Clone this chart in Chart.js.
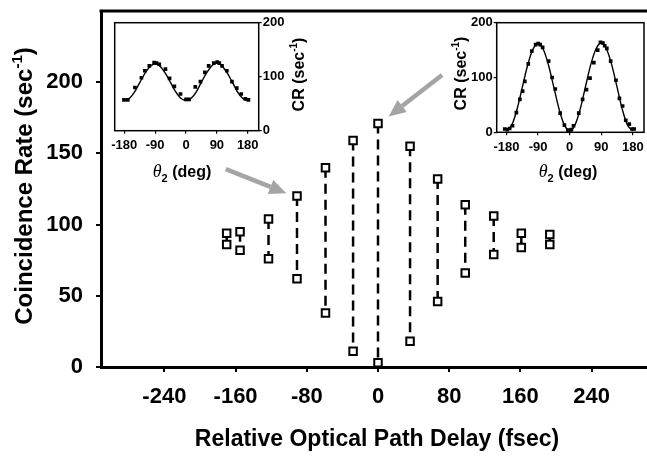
<!DOCTYPE html>
<html>
<head>
<meta charset="utf-8">
<script src="https://cdn.jsdelivr.net/npm/chart.js@4.4.0/dist/chart.umd.min.js"></script>
<style>
  html, body { margin: 0; padding: 0; background: #fff; }
  #wrap { position: relative; width: 647px; height: 468px; }
  #wrap canvas { position: absolute; }
  #mainChart { left: 0; top: 0; }
  #insetLeft { left: 100px; top: 15px; }
  #insetRight { left: 440px; top: 15px; }
</style>
</head>
<body>
<div id="wrap">
  <canvas id="mainChart" width="647" height="468"></canvas>
  <canvas id="insetLeft" width="215" height="170"></canvas>
  <canvas id="insetRight" width="207" height="170"></canvas>
</div>
<script>
/* ================= MAIN PANEL DATA ================= */
const delays   = [-170, -155, -123, -91, -59, -28, 0, 36, 67, 98, 130, 161, 193];
const rateHigh = [94, 95, 104, 120, 140, 159, 171, 155, 132, 114, 106, 94, 93];
const rateLow  = [86, 82, 76, 62, 38, 11, 3, 18, 46, 66, 79, 84, 86];
const delayTicks = [-240, -160, -80, 0, 80, 160, 240];
const rateTicks  = [0, 50, 100, 150, 200];

// arrows from the insets to their points (delay, rate)
const arrowFrom = [[-171, 139], [72, 205]];
const arrowTo   = [[-103, 122], [12, 176]];

/* ================= INSET DATA ================= */
const angleTicks = [-180, -90, 0, 90, 180];
const crTicks    = [0, 100, 200];

const fitDeg = [-180, -165, -150, -135, -120, -105, -90, -75, -60, -45, -30, -15, 0,
                15, 30, 45, 60, 75, 90, 105, 120, 135, 150, 165, 180];

// left inset (delay -91 fsec)
const leftFitCR = [56, 60, 72, 89, 106, 119, 124, 119, 106, 89, 72, 60, 56,
                   60, 72, 90, 107, 120, 126, 120, 107, 90, 72, 60, 56];
const leftPtDeg = [-181, -170, -149, -130, -120, -107, -93, -86, -78, -60, -48, -34, -16, 0, 9,
                   27, 42, 55, 66, 81, 91, 97, 105, 119, 134, 148, 161, 173, 182];
const leftPtCR  = [57, 57, 80, 98, 111, 120, 126, 125, 123, 114, 97, 82, 68, 58, 58,
                   81, 91, 108, 120, 125, 127, 125, 120, 111, 91, 79, 68, 59, 57];

// right inset (delay 0 fsec)
const rightFitCR = [3, 13, 42, 82, 122, 151, 161, 151, 122, 82, 42, 13, 3,
                    13, 42, 83, 123, 152, 163, 152, 123, 83, 42, 13, 3];
const rightPtDeg = [-185, -178, -171, -163, -152, -142, -134, -128, -118, -108, -97, -90, -84, -77,
                    -60, -50, -41, -27, -15, -5, 0, 5, 11, 26, 37, 48, 58, 69, 80, 88, 95, 100,
                    106, 117, 132, 142, 151, 160, 170, 178, 184];
const rightPtCR  = [6, 5, 7, 12, 36, 60, 75, 93, 125, 148, 160, 162, 160, 155,
                    130, 100, 79, 35, 13, 4, 3, 5, 12, 35, 60, 78, 99, 127, 150, 164, 163, 158,
                    153, 130, 95, 62, 48, 22, 15, 6, 6];

/* ================= HELPERS ================= */
const SANS = "'Liberation Sans', Arial, Helvetica, sans-serif";

function drawRich(ctx, parts, cx, cy, rot, size) {
  ctx.save();
  ctx.translate(cx, cy);
  ctx.rotate(rot);
  ctx.fillStyle = "#000";
  ctx.textBaseline = "alphabetic";
  ctx.textAlign = "left";
  let total = 0;
  parts.forEach(p => {
    ctx.font = p.font;
    p.w = ctx.measureText(p.text).width;
    total += p.w;
  });
  let px = -total / 2;
  const base = size * 0.36;
  parts.forEach(p => {
    ctx.font = p.font;
    ctx.fillText(p.text, px, base + (p.dy || 0));
    px += p.w;
  });
  ctx.restore();
}

function drawArrow(ctx, x0, y0, x1, y1) {
  const ang = Math.atan2(y1 - y0, x1 - x0);
  const headLen = 17, headHalf = 7.5;
  const bx = x1 - headLen * Math.cos(ang);
  const by = y1 - headLen * Math.sin(ang);
  ctx.strokeStyle = "#a4a4a4";
  ctx.fillStyle = "#a4a4a4";
  ctx.lineWidth = 4.5;
  ctx.setLineDash([]);
  ctx.beginPath();
  ctx.moveTo(x0, y0);
  ctx.lineTo(bx, by);
  ctx.stroke();
  ctx.beginPath();
  ctx.moveTo(x1, y1);
  ctx.lineTo(bx + headHalf * Math.sin(ang), by - headHalf * Math.cos(ang));
  ctx.lineTo(bx - headHalf * Math.sin(ang), by + headHalf * Math.cos(ang));
  ctx.closePath();
  ctx.fill();
}

function crTitle(size) {
  return [
    { text: "CR (sec", font: `bold ${size}px ${SANS}` },
    { text: "-1", font: `bold ${Math.round(size * 0.62)}px ${SANS}`, dy: -size * 0.4 },
    { text: ")", font: `bold ${size}px ${SANS}` }
  ];
}

function thetaTitle(size) {
  return [
    { text: "θ", font: `italic ${size + 2}px 'Liberation Serif', 'DejaVu Serif', serif` },
    { text: "2", font: `bold ${Math.round(size * 0.68)}px ${SANS}`, dy: size * 0.3 },
    { text: " (deg)", font: `bold ${size}px ${SANS}` }
  ];
}

// keep the plot area exactly where the figure has it
function fixHeight(h) {
  return s => { s.height = h; s.paddingLeft = 0; s.paddingRight = 0; };
}
function fixWidth(w) {
  return s => { s.width = w; s.paddingTop = 0; s.paddingBottom = 0; };
}

/* ================= MAIN CHART ================= */
const pairDatasets = delays.map((d, i) => ({
  data: [{ x: d, y: rateHigh[i] }, { x: d, y: rateLow[i] }],
  showLine: true,
  borderColor: "#000",
  borderWidth: 2.5,
  borderDash: [10, 6],
  pointStyle: "rect",
  pointRadius: 5.3,
  pointBorderWidth: 2,
  pointBorderColor: "#000",
  pointBackgroundColor: "#fff"
}));

const mainDecor = {
  id: "mainDecor",
  afterDraw(chart) {
    const { ctx, chartArea, scales: { x, y } } = chart;
    ctx.save();
    // top frame line
    ctx.strokeStyle = "#000";
    ctx.lineWidth = 3;
    ctx.beginPath();
    ctx.moveTo(chartArea.left - 1.5, chartArea.top);
    ctx.lineTo(chartArea.right, chartArea.top);
    ctx.stroke();

    arrowFrom.forEach((p, i) => {
      drawArrow(ctx,
        x.getPixelForValue(p[0]), y.getPixelForValue(p[1]),
        x.getPixelForValue(arrowTo[i][0]), y.getPixelForValue(arrowTo[i][1]));
    });

    drawRich(ctx, [
      { text: "Coincidence Rate (sec", font: `bold 24px ${SANS}` },
      { text: "-1", font: `bold 15px ${SANS}`, dy: -10 },
      { text: ")", font: `bold 24px ${SANS}` }
    ], 23, 186, -Math.PI / 2, 24);

    drawRich(ctx, [
      { text: "Relative Optical Path Delay (fsec)", font: `bold 23px ${SANS}` }
    ], 377, 438, 0, 23);
    ctx.restore();
  }
};

new Chart(document.getElementById("mainChart"), {
  type: "scatter",
  data: { datasets: pairDatasets },
  options: {
    responsive: false,
    animation: false,
    layout: { autoPadding: false, padding: { top: 11, right: 0, left: 0, bottom: 0 } },
    plugins: { legend: { display: false }, tooltip: { enabled: false } },
    scales: {
      x: {
        type: "linear",
        min: -311.2,
        max: 302.2,
        afterFit: fixHeight(101),
        afterBuildTicks: s => { s.ticks = delayTicks.map(v => ({ value: v })); },
        border: { color: "#000", width: 3 },
        grid: { drawOnChartArea: false, color: "#000", lineWidth: 2, tickLength: 5 },
        ticks: {
          color: "#000",
          font: { family: SANS, size: 22, weight: "bold" },
          padding: 12,
          maxRotation: 0,
          autoSkip: false
        }
      },
      y: {
        type: "linear",
        min: 0,
        max: 250,
        afterFit: fixWidth(101),
        afterBuildTicks: s => { s.ticks = rateTicks.map(v => ({ value: v })); },
        border: { color: "#000", width: 3 },
        grid: { drawOnChartArea: false, color: "#000", lineWidth: 2, tickLength: 5 },
        ticks: {
          color: "#000",
          font: { family: SANS, size: 22, weight: "bold" },
          padding: 13
        }
      }
    }
  },
  plugins: [mainDecor]
});

/* ================= INSETS ================= */
function makeInset(id, fitCR, ptDeg, ptCR, cfg) {
  const frame = {
    id: "frame_" + id,
    afterDraw(chart) {
      const { ctx, chartArea: a } = chart;
      ctx.save();
      ctx.strokeStyle = "#000";
      ctx.lineWidth = 1.5;
      ctx.strokeRect(a.left, a.top, a.right - a.left, a.bottom - a.top);
      drawRich(ctx, crTitle(16), cfg.crX, cfg.crY, -Math.PI / 2, 16);
      drawRich(ctx, thetaTitle(16), cfg.thX, cfg.thY, 0, 16);
      ctx.restore();
    }
  };

  new Chart(document.getElementById(id), {
    type: "scatter",
    data: {
      datasets: [
        {
          data: fitDeg.map((d, i) => ({ x: d, y: fitCR[i] })),
          showLine: true,
          borderColor: "#000",
          borderWidth: 1.4,
          cubicInterpolationMode: "monotone",
          pointRadius: 0
        },
        {
          data: ptDeg.map((d, i) => ({ x: d, y: ptCR[i] })),
          pointStyle: "rect",
          pointRadius: 2.6,
          pointBorderWidth: 0,
          pointBackgroundColor: "#000"
        }
      ]
    },
    options: {
      responsive: false,
      animation: false,
      layout: { autoPadding: false, padding: cfg.padding },
      plugins: { legend: { display: false }, tooltip: { enabled: false } },
      scales: {
        x: {
          type: "linear",
          min: -208,
          max: 212,
          afterFit: fixHeight(cfg.xHeight),
          afterBuildTicks: s => { s.ticks = angleTicks.map(v => ({ value: v })); },
          border: { display: false },
          grid: { drawOnChartArea: false, color: "#000", lineWidth: 1.2, tickLength: 3 },
          ticks: {
            color: "#000",
            font: { family: SANS, size: 13, weight: "bold" },
            padding: 4,
            maxRotation: 0,
            autoSkip: false
          }
        },
        y: {
          type: "linear",
          position: cfg.side,
          min: 0,
          max: 200,
          afterFit: fixWidth(cfg.yWidth),
          afterBuildTicks: s => { s.ticks = crTicks.map(v => ({ value: v })); },
          border: { display: false },
          grid: { drawOnChartArea: false, color: "#000", lineWidth: 1.2, tickLength: 3 },
          ticks: {
            color: "#000",
            font: { family: SANS, size: 13, weight: "bold" },
            padding: 1
          }
        }
      }
    },
    plugins: [frame]
  });
}

makeInset("insetLeft", leftFitCR, leftPtDeg, leftPtCR, {
  side: "right",
  padding: { left: 14.7, top: 7.7, right: 0, bottom: 0 },
  xHeight: 54.3,
  yWidth: 56.3,
  crX: 198, crY: 59.5,
  thX: 82, thY: 156.7
});

makeInset("insetRight", rightFitCR, rightPtDeg, rightPtCR, {
  side: "left",
  padding: { left: 0, top: 7.7, right: 3, bottom: 0 },
  xHeight: 52.7,
  yWidth: 56.7,
  crX: 20, crY: 58.5,
  thX: 128, thY: 156.7
});
</script>
</body>
</html>
